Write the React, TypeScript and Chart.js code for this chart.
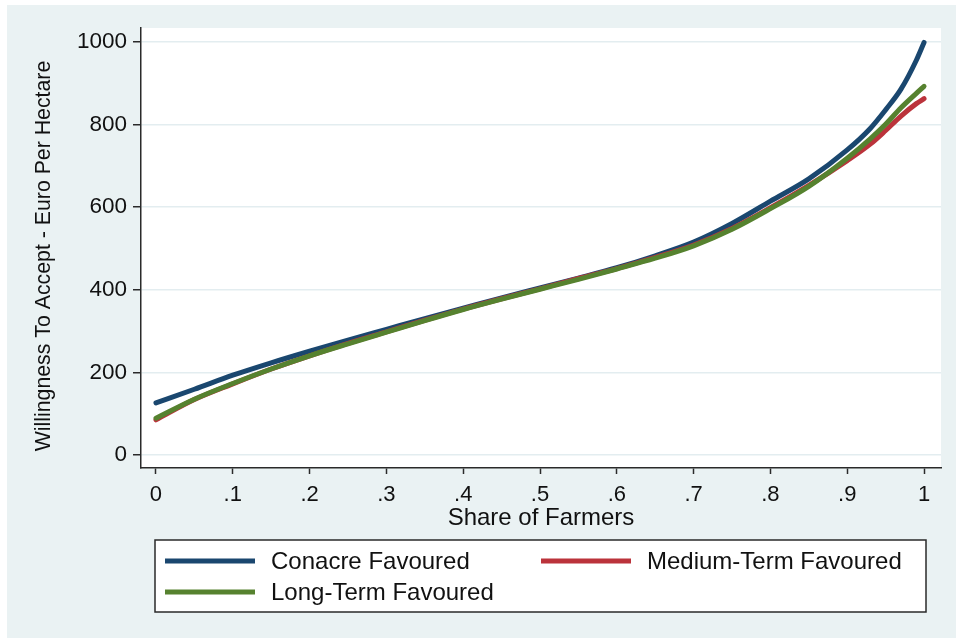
import React, { useEffect, useRef } from "react";
import { Chart, registerables } from "chart.js";

Chart.register(...registerables);

// Share of farmers (x) at which each willingness-to-accept curve is read
const shares = [0, 0.05, 0.1, 0.15, 0.2, 0.25, 0.3, 0.35, 0.4, 0.45, 0.5, 0.55, 0.6, 0.65, 0.7, 0.75, 0.8, 0.85, 0.9, 0.93, 0.95, 0.97, 0.99, 1.0];

// Euro per hectare
const conacre = [126, 159, 193, 223, 251, 278, 304, 330, 355, 380, 404, 428, 453, 482, 515, 560, 614, 668, 738, 790, 835, 885, 955, 998];
const mediumTerm = [85, 134, 172, 208, 240, 270, 298, 326, 353, 378, 402, 427, 451, 478, 508, 548, 598, 652, 712, 752, 785, 820, 850, 862];
const longTerm = [89, 135, 173, 208, 240, 269, 297, 325, 352, 377, 401, 425, 450, 476, 506, 546, 596, 650, 718, 765, 800, 840, 875, 892];

const seriesLabels = ["Conacre Favoured", "Medium-Term Favoured", "Long-Term Favoured"];
const seriesColors = ["#1a476f", "#bb333b", "#56822f"];

const xTicks = [0, 0.1, 0.2, 0.3, 0.4, 0.5, 0.6, 0.7, 0.8, 0.9, 1];
const yTicks = [0, 200, 400, 600, 800, 1000];

const yTitle = "Willingness To Accept - Euro Per Hectare";
const xTitle = "Share of Farmers";

const FONT = "'Liberation Sans', Arial, Helvetica, sans-serif";
const TEXT = "#111111";

const fmtShare = (v: number) => {
  if (v === 0) return "0";
  if (v === 1) return "1";
  return "." + Math.round(v * 10);
};

const toPoints = (ys: number[]) => shares.map((x, i) => ({ x, y: ys[i] }));

// Paints the outer graph region, the white plot region, the y title and the boxed legend
const frame = {
  id: "frame",
  beforeDraw(chart: any) {
    const { ctx, width, height, chartArea } = chart;
    ctx.save();
    ctx.fillStyle = "#ffffff";
    ctx.fillRect(0, 0, width, height);
    ctx.fillStyle = "#eaf2f3";
    ctx.fillRect(7, 5, width - 7, height - 5);
    ctx.fillStyle = "#ffffff";
    ctx.fillRect(chartArea.left, chartArea.top, chartArea.right - chartArea.left, chartArea.bottom - chartArea.top);

    // vertical axis title
    ctx.translate(44, (chartArea.top + chartArea.bottom) / 2 + 8);
    ctx.rotate(-Math.PI / 2);
    ctx.font = `21.3px ${FONT}`;
    ctx.fillStyle = TEXT;
    ctx.textAlign = "center";
    ctx.textBaseline = "middle";
    ctx.fillText(yTitle, 0, 0);
    ctx.restore();
  },
  afterDraw(chart: any) {
    const { ctx } = chart;
    const box = { x: 155, y: 540, w: 771, h: 72 };
    ctx.save();
    ctx.fillStyle = "#ffffff";
    ctx.fillRect(box.x, box.y, box.w, box.h);
    ctx.strokeStyle = "#2a2a2a";
    ctx.lineWidth = 1.5;
    ctx.strokeRect(box.x, box.y, box.w, box.h);
    const slots = [
      { x: 165, y: 561 },
      { x: 541, y: 561 },
      { x: 165, y: 592 },
    ];
    ctx.font = `24px ${FONT}`;
    ctx.textBaseline = "middle";
    ctx.textAlign = "left";
    chart.data.datasets.forEach((ds: any, i: number) => {
      const s = slots[i];
      ctx.strokeStyle = ds.borderColor;
      ctx.lineWidth = 5;
      ctx.lineCap = "butt";
      ctx.beginPath();
      ctx.moveTo(s.x, s.y);
      ctx.lineTo(s.x + 90, s.y);
      ctx.stroke();
      ctx.fillStyle = TEXT;
      ctx.fillText(ds.label, s.x + 106, s.y + 1);
    });
    ctx.restore();
  },
};

export default function App() {
  const ref = useRef<HTMLCanvasElement | null>(null);

  useEffect(() => {
    if (!ref.current) return;
    const series = [conacre, mediumTerm, longTerm];
    const chart = new Chart(ref.current, {
      type: "line",
      data: {
        datasets: series.map((ys, i) => ({
          label: seriesLabels[i],
          data: toPoints(ys),
          borderColor: seriesColors[i],
          backgroundColor: seriesColors[i],
          borderWidth: 5,
          borderCapStyle: "round",
          borderJoinStyle: "round",
          pointRadius: 0,
          cubicInterpolationMode: "monotone",
          fill: false,
          order: 2 - i,
        })),
      },
      options: {
        animation: false,
        responsive: false,
        devicePixelRatio: 1,
        layout: { padding: { left: 7, top: 28, right: 15, bottom: 100 } },
        plugins: {
          legend: { display: false },
          tooltip: { enabled: false },
        },
        scales: {
          x: {
            type: "linear",
            min: -0.0195,
            max: 1.0221,
            afterBuildTicks: (s: any) => {
              s.ticks = xTicks.map((v) => ({ value: v }));
            },
            afterFit: (s: any) => {
              s.height = 70;
            },
            ticks: {
              autoSkip: false,
              maxRotation: 0,
              padding: 8,
              color: TEXT,
              font: { family: FONT, size: 22 },
              callback: (v: any) => fmtShare(Number(v)),
            },
            grid: {
              drawOnChartArea: false,
              tickLength: 6,
              tickColor: "#2a2a2a",
              tickWidth: 1.5,
            },
            border: { display: true, color: "#2a2a2a", width: 1.5 },
            title: {
              display: true,
              text: xTitle,
              color: TEXT,
              font: { family: FONT, size: 24 },
              padding: { top: 0, bottom: 5 },
            },
          },
          y: {
            type: "linear",
            min: -31.5,
            max: 1033,
            afterBuildTicks: (s: any) => {
              s.ticks = yTicks.map((v) => ({ value: v }));
            },
            afterFit: (s: any) => {
              s.width = 134;
            },
            ticks: {
              padding: 6,
              color: TEXT,
              font: { family: FONT, size: 22.5 },
              callback: (v: any) => String(v),
            },
            grid: {
              color: "#e3edf0",
              lineWidth: 1.5,
              tickLength: 8,
              tickColor: "#2a2a2a",
              tickWidth: 1.5,
            },
            border: { display: true, color: "#2a2a2a", width: 1.5 },
            title: { display: false },
          },
        },
      },
      plugins: [frame],
    } as any);
    return () => chart.destroy();
  }, []);

  return (
    <div style={{ position: "absolute", left: 0, top: 0, width: 956, height: 638 }}>
      <canvas ref={ref} width={956} height={638} style={{ width: 956, height: 638, display: "block" }} />
    </div>
  );
}
